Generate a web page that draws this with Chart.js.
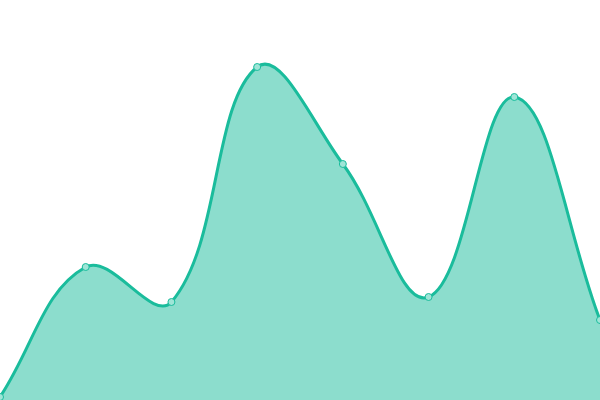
<!DOCTYPE html>
<html><head><meta charset="utf-8">
<script src="https://cdn.jsdelivr.net/npm/chart.js@4"></script>
<style>html,body{margin:0;padding:0;background:#fff}#w{width:600px;height:400px}</style>
</head><body><div id="w"><canvas id="c"></canvas></div>
<script>
const categories = ["1","2","3","4","5","6","7","8"];
const values = [3, 133, 98, 333, 236, 103, 303, 80];
new Chart(document.getElementById('c'), {
  type: 'line',
  data: { labels: categories, datasets: [{
    data: values,
    fill: 'start',
    tension: 0.4,
    borderColor: '#1abc9c',
    backgroundColor: 'rgba(26,188,156,0.5)',
    borderWidth: 3,
    pointRadius: 3.5,
    pointBorderWidth: 1,
    pointBackgroundColor: '#9fe5d7',
    pointBorderColor: '#1abc9c'
  }]},
  options: {
    responsive: true, maintainAspectRatio: false, animation: false,
    layout: { padding: 0, autoPadding: false },
    plugins: { legend: { display: false }, tooltip: { enabled: false } },
    scales: {
      x: { display: false, offset: false },
      y: { display: false, min: 0, max: 400 }
    }
  }
});
</script></body></html>
